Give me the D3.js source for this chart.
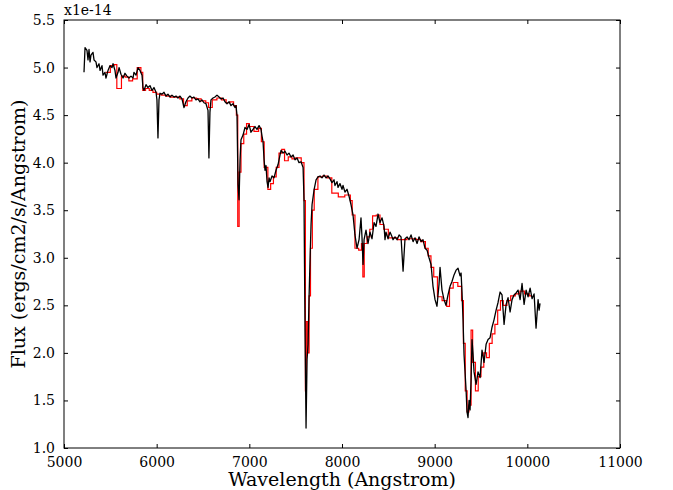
<!DOCTYPE html>
<html>
<head>
<meta charset="utf-8">
<script src="https://cdn.jsdelivr.net/npm/d3@7"></script>
<style>
  body { margin: 0; background: #fff; }
  svg text { font-family: "DejaVu Serif", serif; fill: #000; }
</style>
</head>
<body>
<svg id="chart" width="673" height="490"></svg>
<script>
// observed spectrum, wavelength (Angstrom) and flux (1e-14 ergs/cm2/s/Angstrom)
var obsWave = [5216,5227,5248,5259,5270,5281,5291,5313,5324,5345,5356,5378,5389,5410,5421,5442,5453,5475,5496,5518,
  5529,5550,5561,5583,5594,5615,5637,5658,5680,5701,5723,5745,5755,5777,5799,5820,5842,5852,5863,5885,
  5906,5928,5950,5971,5993,6003,6014,6025,6036,6057,6079,6101,6122,6144,6165,6187,6209,6230,6252,6273,
  6295,6316,6338,6359,6381,6402,6424,6446,6467,6489,6510,6532,6554,6564,6575,6586,6608,6629,6651,6673,
  6694,6716,6737,6759,6781,6802,6824,6845,6856,6867,6878,6889,6900,6910,6932,6953,6975,6997,7018,7040,
  7061,7083,7105,7126,7137,7148,7159,7169,7180,7191,7202,7213,7223,7245,7266,7288,7310,7331,7342,7364,
  7385,7407,7428,7450,7472,7493,7515,7536,7558,7580,7590,7601,7612,7623,7634,7644,7655,7666,7677,7698,
  7720,7741,7763,7784,7806,7828,7849,7871,7892,7914,7924,7946,7957,7978,8000,8011,8032,8054,8075,8097,
  8119,8140,8162,8184,8205,8216,8227,8238,8259,8281,8302,8324,8346,8367,8389,8410,8432,8454,8464,8475,
  8497,8518,8540,8551,8572,8594,8616,8637,8659,8680,8702,8723,8745,8767,8788,8810,8831,8853,8874,8896,
  8918,8939,8961,8982,9004,9025,9047,9058,9079,9101,9122,9144,9166,9187,9209,9231,9252,9274,9285,9295,
  9306,9317,9339,9349,9360,9371,9382,9393,9403,9414,9425,9447,9468,9490,9511,9533,9555,9576,9598,9619,
  9641,9663,9684,9706,9727,9749,9771,9792,9814,9835,9857,9879,9900,9922,9943,9965,9987,10008,10030,10051,
  10073,10094,10116,10127,10137];
var obsFlux = [4.95,5.21,5.18,5.08,5.19,5.06,5.13,5.16,5.08,5.06,5.00,5.04,4.97,5.02,4.92,4.95,4.89,4.97,5.02,5.00,
  5.04,4.97,4.89,4.95,5.00,4.93,4.89,4.94,4.91,4.89,4.91,4.89,4.95,4.92,5.00,4.97,4.92,4.79,4.76,4.82,
  4.79,4.81,4.76,4.79,4.74,4.66,4.26,4.66,4.73,4.72,4.74,4.70,4.72,4.69,4.71,4.69,4.70,4.68,4.70,4.67,
  4.58,4.64,4.68,4.70,4.68,4.69,4.66,4.67,4.64,4.66,4.63,4.62,4.55,4.05,4.53,4.66,4.68,4.69,4.71,4.69,
  4.67,4.68,4.64,4.62,4.64,4.60,4.62,4.58,4.60,4.50,3.77,3.61,4.03,4.24,4.29,4.37,4.35,4.40,4.32,4.35,
  4.38,4.35,4.39,4.35,4.28,4.22,4.03,3.92,3.97,3.80,3.74,3.84,3.80,3.86,3.84,3.92,3.98,4.08,4.13,4.10,
  4.12,4.08,4.10,4.06,4.08,4.03,4.05,4.00,4.01,3.95,3.61,2.24,1.21,1.93,2.09,2.56,2.98,3.35,3.56,3.71,
  3.82,3.85,3.86,3.84,3.87,3.84,3.86,3.83,3.79,3.82,3.76,3.80,3.74,3.78,3.72,3.76,3.69,3.72,3.65,3.56,
  3.45,3.24,3.10,3.19,3.42,3.21,2.93,3.19,3.29,3.15,3.27,3.20,3.37,3.33,3.46,3.37,3.42,3.33,3.19,3.27,
  3.20,3.27,3.22,3.19,3.22,3.19,3.24,3.22,2.86,3.20,3.22,3.19,3.24,3.17,3.21,3.15,3.22,3.17,3.19,3.10,
  3.08,3.00,2.93,2.70,2.56,2.49,2.72,2.90,2.66,2.56,2.50,2.61,2.70,2.75,2.82,2.87,2.89,2.81,2.84,2.64,
  2.35,1.98,1.61,1.38,1.32,1.50,1.40,1.72,2.14,1.99,1.80,1.67,1.80,1.74,2.03,1.90,2.09,2.14,2.16,2.27,
  2.35,2.45,2.53,2.64,2.61,2.30,2.51,2.58,2.43,2.56,2.61,2.63,2.66,2.56,2.73,2.51,2.66,2.59,2.68,2.57,
  2.62,2.26,2.56,2.45,2.52];

// model spectrum (stepped)
var modWave = [5450,5500,5540,5570,5620,5660,5700,5740,5790,5830,5850,5880,5920,5960,6000,6050,6100,6150,6200,6250,
  6290,6330,6380,6430,6480,6530,6560,6600,6650,6700,6750,6790,6830,6860,6875,6890,6910,6940,6970,7000,
  7050,7100,7130,7160,7200,7230,7260,7290,7320,7350,7380,7420,7460,7500,7560,7590,7605,7615,7630,7645,
  7660,7680,7700,7740,7790,7840,7890,7960,8030,8090,8110,8140,8180,8210,8225,8240,8270,8300,8330,8370,
  8410,8450,8500,8600,8700,8800,8850,8900,8930,8960,8990,9030,9080,9130,9160,9200,9250,9290,9310,9330,
  9350,9370,9393,9410,9440,9470,9500,9530,9560,9590,9620,9650,9680,9710,9740,9780,9820,9870,9920,9970,
  10020,10050];
var modFlux = [4.95,5.02,5.03,4.78,4.91,4.90,4.86,4.88,5.00,4.95,4.76,4.78,4.76,4.74,4.72,4.71,4.70,4.69,4.69,4.67,
  4.60,4.65,4.68,4.67,4.65,4.63,4.58,4.66,4.68,4.66,4.63,4.64,4.60,4.50,3.33,3.90,4.20,4.30,4.41,4.38,
  4.33,4.36,4.22,3.95,3.72,3.78,3.85,3.95,4.10,4.14,4.02,4.06,4.04,4.05,4.00,3.60,1.60,2.33,2.00,2.60,
  3.10,3.50,3.72,3.85,3.86,3.84,3.68,3.64,3.66,3.60,3.45,3.10,3.08,3.15,2.80,3.15,3.22,3.30,3.44,3.45,
  3.35,3.30,3.21,3.19,3.20,3.19,3.17,3.10,3.02,2.90,2.80,2.59,2.55,2.49,2.68,2.74,2.70,2.55,2.10,1.60,
  1.38,1.45,2.24,1.90,1.60,1.75,1.85,2.00,1.95,2.10,2.20,2.30,2.45,2.55,2.50,2.55,2.60,2.62,2.65,2.62,
  2.60,2.60];

var xTicks = [5000,6000,7000,8000,9000,10000,11000];
var yTicks = [1.0,1.5,2.0,2.5,3.0,3.5,4.0,4.5,5.0,5.5];

var svg = d3.select("#chart");
var mLeft = 64, mRight = 620, mTop = 20, mBottom = 448;

var x = d3.scaleLinear().domain([5000, 11000]).range([mLeft, mRight]);
var y = d3.scaleLinear().domain([1.0, 5.5]).range([mBottom, mTop]);

svg.append("clipPath").attr("id", "clip")
  .append("rect").attr("x", mLeft).attr("y", mTop)
  .attr("width", mRight - mLeft).attr("height", mBottom - mTop);

var obs = obsWave.map(function(w, i) { return [w, obsFlux[i]]; });
var mod = modWave.map(function(w, i) { return [w, modFlux[i]]; });

var line = d3.line().x(function(d) { return x(d[0]); }).y(function(d) { return y(d[1]); });
var stepLine = d3.line().curve(d3.curveStepAfter)
  .x(function(d) { return x(d[0]); }).y(function(d) { return y(d[1]); });

var plot = svg.append("g").attr("clip-path", "url(#clip)");
plot.append("path").datum(mod).attr("d", stepLine)
  .attr("fill", "none").attr("stroke", "#ff0000").attr("stroke-width", 1.2);
plot.append("path").datum(obs).attr("d", line)
  .attr("fill", "none").attr("stroke", "#000").attr("stroke-width", 1.3)
  .attr("stroke-linejoin", "round");

// axes: ticks inside on all four sides
var axB = d3.axisBottom(x).tickValues(xTicks).tickSizeInner(-4).tickSizeOuter(0).tickPadding(9).tickFormat(d3.format("d"));
var axT = d3.axisTop(x).tickValues(xTicks).tickSizeInner(-4).tickSizeOuter(0).tickFormat("");
var axL = d3.axisLeft(y).tickValues(yTicks).tickSizeInner(-4).tickSizeOuter(0).tickPadding(9).tickFormat(d3.format(".1f"));
var axR = d3.axisRight(y).tickValues(yTicks).tickSizeInner(-4).tickSizeOuter(0).tickFormat("");

function style(g) {
  g.select(".domain").remove();
  g.selectAll("line").attr("stroke", "#000");
  g.selectAll("text").attr("font-size", 14).attr("font-family", "DejaVu Serif, serif");
}
svg.append("g").attr("transform", "translate(0," + mBottom + ")").call(axB).call(style);
svg.append("g").attr("transform", "translate(0," + mTop + ")").call(axT).call(style);
svg.append("g").attr("transform", "translate(" + mLeft + ",0)").call(axL).call(style);
svg.append("g").attr("transform", "translate(" + mRight + ",0)").call(axR).call(style);

svg.append("rect").attr("x", mLeft).attr("y", mTop)
  .attr("width", mRight - mLeft).attr("height", mBottom - mTop)
  .attr("fill", "none").attr("stroke", "#000").attr("stroke-width", 1);

svg.append("text").attr("x", mLeft).attr("y", mTop - 5)
  .attr("font-size", 14).text("x1e-14");

svg.append("text").attr("x", (mLeft + mRight) / 2).attr("y", 486)
  .attr("text-anchor", "middle").attr("font-size", 19).text("Wavelength (Angstrom)");

svg.append("text").attr("transform", "translate(25," + ((mTop + mBottom) / 2) + ") rotate(-90)")
  .attr("text-anchor", "middle").attr("font-size", 19).text("Flux (ergs/cm2/s/Angstrom)");
</script>
</body>
</html>
